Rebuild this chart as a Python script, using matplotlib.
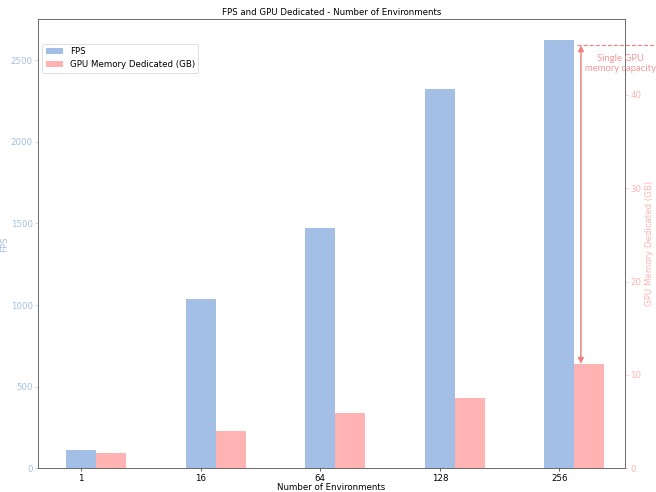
import matplotlib
matplotlib.use("Agg")
import matplotlib.pyplot as plt
import numpy as np

envs = ["1", "16", "64", "128", "256"]
fps = [110, 1039, 1473, 2323, 2622]
mem_gb = [1.6, 3.96, 5.96, 7.49, 11.2]
gpu_capacity = 45.3

blue = (0.64, 0.75, 0.90)
pink = (1.0, 0.70, 0.70)
red = (0.94, 0.50, 0.50)
fs = 11.3

fig = plt.figure(figsize=(12, 9), dpi=656 / 12)
ax = fig.add_axes([0.058, 0.048, 0.895, 0.913])
ax2 = ax.twinx()

x = np.arange(len(envs))
w = 0.25
b1 = ax.bar(x, fps, width=w, color=blue, label="FPS")
b2 = ax2.bar(x + w, mem_gb, width=w, color=pink, label="GPU Memory Dedicated (GB)")

ax.set_xticks(x)
ax.set_xticklabels(envs, fontsize=fs)
ax.set_xlim(-0.36, 4.55)
ax.set_ylim(0, 2750)
ax2.set_ylim(0, 48.1)

ax.set_xlabel("Number of Environments", fontsize=fs, labelpad=0.5)
ax.set_ylabel("FPS", color=blue, fontsize=fs)
ax.yaxis.set_label_coords(-0.05, 0.5)
ax2.set_ylabel("GPU Memory Dedicated (GB)", color=pink, fontsize=fs)
ax.tick_params(axis="y", colors=blue, labelsize=fs)
ax.tick_params(axis="x", labelsize=fs)
ax2.tick_params(axis="y", colors=pink, labelsize=fs)
for a in (ax, ax2):
    for s in a.spines.values():
        s.set_color("#555555")
ax.set_title("FPS and GPU Dedicated - Number of Environments", fontsize=fs)

# capacity line and arrow
x_arr = x[-1] + 0.18
ax2.plot([x[-1] + 0.15, x[-1] + 0.79], [gpu_capacity, gpu_capacity], linestyle="--",
         color=red, lw=1.5, clip_on=False)
ax2.annotate("", xy=(x_arr, mem_gb[-1]), xytext=(x_arr, gpu_capacity),
             arrowprops=dict(arrowstyle="<|-|>", color=red, lw=2, mutation_scale=15,
                             shrinkA=0, shrinkB=0))
ax2.text(x[-1] + 0.51, gpu_capacity - 0.9, "Single GPU\nmemory capacity", color=red,
         alpha=0.8, ha="center", va="top", fontsize=12.5, family=["Lato", "DejaVu Sans"],
         clip_on=False, linespacing=1.25)

ax.legend([b1, b2], [b1.get_label(), b2.get_label()], loc="upper left",
          bbox_to_anchor=(0, 0.955), fontsize=fs)

fig.savefig("out.png", dpi=656 / 12)
